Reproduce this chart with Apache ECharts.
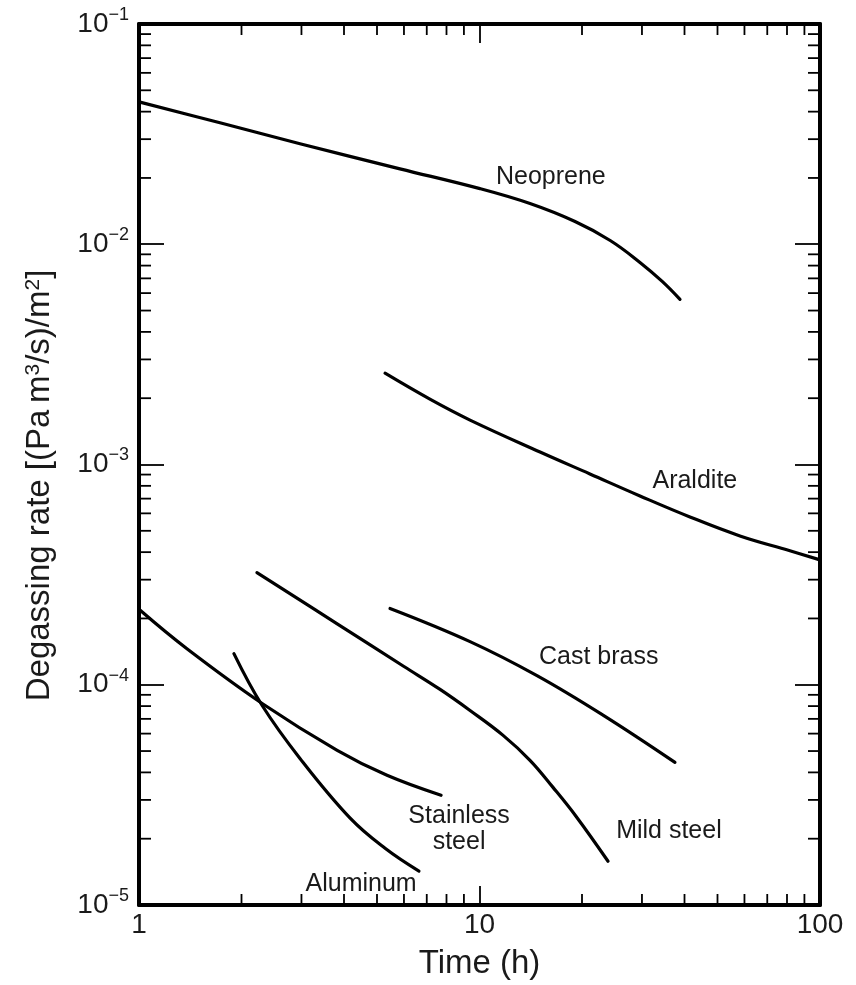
<!DOCTYPE html>
<html>
<head>
<meta charset="utf-8">
<script src="https://cdn.jsdelivr.net/npm/echarts@6/dist/echarts.min.js"></script>
<style>
  html, body { margin: 0; padding: 0; background: #ffffff; }
  #chart { width: 856px; height: 985px; }
</style>
</head>
<body>
<div id="chart"></div>
<script>
// Degassing rate of materials versus pumping time.
// Each point: [time (h), degassing rate ((Pa m^3/s)/m^2)]
const neoprene = [[1, 0.0443], [1.729, 0.0356], [2.97, 0.0286], [5.84, 0.0220], [10.03, 0.01788], [14.07, 0.0153], [19.08, 0.01268], [24.2, 0.0104], [29.6, 0.00827], [34.4, 0.00678], [38.8, 0.00562]];
const araldite = [[5.28, 0.002597], [7.15, 0.00198], [9.38, 0.001591], [15.06, 0.001139], [21.1, 0.000906], [29.6, 0.000720], [41.5, 0.000578], [58.2, 0.000474], [81.6, 0.000406], [100, 0.000369]];
const castBrass = [[5.46, 2.22e-4], [9.38, 1.57e-4], [14.75, 1.10e-4], [23.05, 7.28e-5], [37.5, 4.44e-5]];
const mildSteel = [[2.22, 3.23e-4], [3.82, 1.89e-4], [6.0, 1.21e-4], [7.66, 9.52e-5], [9.38, 7.64e-5], [11.73, 5.89e-5], [14.07, 4.54e-5], [16.44, 3.42e-5], [19.2, 2.53e-5], [23.85, 1.58e-5]];
const stainlessSteel = [[1, 2.2e-4], [1.38, 1.46e-4], [2.30, 8.22e-5], [3.82, 5.04e-5], [5.35, 3.88e-5], [7.71, 3.15e-5]];
const aluminum = [[1.90, 1.385e-4], [2.30, 8.05e-5], [2.97, 4.63e-5], [4.17, 2.48e-5], [5.28, 1.81e-5], [6.64, 1.426e-5]];

// Curve names and where each name is written (time, rate)
const curveNames = ['Neoprene', 'Araldite', 'Cast brass', 'Stainless\nsteel', 'Mild steel', 'Aluminum'];
const nameAnchors = [[16.2, 0.0207], [42.9, 8.6e-4], [22.4, 1.357e-4], [8.71, 2.256e-5], [36.0, 2.21e-5], [4.49, 1.271e-5]];

// Axis ranges and tick labels
const X_MIN = 1, X_MAX = 100;
const Y_MIN = 1e-5, Y_MAX = 1e-1;
const xTickLabels = ['1', '10', '100'];
const yTickExponents = [-5, -4, -3, -2, -1];
const minorMultipliers = [2, 3, 4, 5, 6, 7, 8, 9];

const xMinorTicks = [];
[1, 10].forEach(d => minorMultipliers.forEach(m => xMinorTicks.push([m * d, Y_MIN])));
const yMinorTicks = [];
[1e-5, 1e-4, 1e-3, 1e-2].forEach(d => minorMultipliers.forEach(m => yMinorTicks.push([X_MIN, m * d])));

const FONT = '"Liberation Sans", Arial, Helvetica, sans-serif';
const INK = '#000000';
const TEXT = '#1a1a1a';

const frameLine = { show: true, onZero: false, lineStyle: { color: INK, width: 4 } };
const tickStyle = { color: INK, width: 1.8 };

function curve(name, data) {
  return {
    name, type: 'line', data, smooth: 0.4, showSymbol: false,
    xAxisIndex: 0, yAxisIndex: 0,
    lineStyle: { color: INK, width: 3.2, cap: 'round', join: 'round' },
    z: 3
  };
}

const chart = echarts.init(document.getElementById('chart'), null, { renderer: 'canvas' });

chart.setOption({
  animation: false,
  backgroundColor: '#ffffff',
  textStyle: { fontFamily: FONT },
  grid: { left: 139, right: 36, top: 24, bottom: 78, containLabel: false },
  xAxis: [
    {
      type: 'log', logBase: 10, min: X_MIN, max: X_MAX, position: 'bottom',
      axisLine: frameLine,
      axisTick: { show: true, inside: true, length: 19, lineStyle: tickStyle },
      axisLabel: {
        show: true, margin: 6, fontSize: 28, color: TEXT, fontFamily: FONT,
        showMinLabel: true, showMaxLabel: true,
        formatter: v => xTickLabels[Math.round(Math.log10(v))]
      },
      splitLine: { show: false }, minorTick: { show: false },
      name: 'Time (h)', nameLocation: 'middle', nameGap: 42,
      nameTextStyle: { fontSize: 33, color: TEXT, fontFamily: FONT }
    },
    {
      type: 'log', logBase: 10, min: X_MIN, max: X_MAX, position: 'top',
      axisLine: frameLine,
      axisTick: { show: true, inside: true, length: 19, lineStyle: tickStyle },
      axisLabel: { show: false }, splitLine: { show: false }
    }
  ],
  yAxis: [
    {
      type: 'log', logBase: 10, min: Y_MIN, max: Y_MAX, position: 'left',
      axisLine: frameLine,
      axisTick: { show: true, inside: true, length: 25, lineStyle: tickStyle },
      axisLabel: {
        show: true, margin: 10, fontFamily: FONT, color: TEXT,
        showMinLabel: true, showMaxLabel: true,
        formatter: v => {
          const e = Math.round(Math.log10(v));
          return yTickExponents.includes(e) ? '{b|10}{s|\u2212' + (-e) + '}' : '';
        },
        rich: {
          b: { fontSize: 28, lineHeight: 36, color: TEXT, fontFamily: FONT },
          s: { fontSize: 18, lineHeight: 18, verticalAlign: 'top', color: TEXT, fontFamily: FONT }
        }
      },
      splitLine: { show: false }, minorTick: { show: false },
      name: 'Degassing rate [(Pa\u2009m{s|3}/s)/m{s|2}]',
      nameLocation: 'middle', nameRotate: 90, nameGap: 83,
      nameTextStyle: {
        fontSize: 33, color: TEXT, fontFamily: FONT, padding: [0, 42, 0, 0],
        rich: { s: { fontSize: 21, lineHeight: 21, verticalAlign: 'top', color: TEXT, fontFamily: FONT } }
      }
    },
    {
      type: 'log', logBase: 10, min: Y_MIN, max: Y_MAX, position: 'right',
      axisLine: frameLine,
      axisTick: { show: true, inside: true, length: 25, lineStyle: tickStyle },
      axisLabel: { show: false }, splitLine: { show: false }
    }
  ],
  series: [
    curve('Neoprene', neoprene),
    curve('Araldite', araldite),
    curve('Cast brass', castBrass),
    curve('Mild steel', mildSteel),
    curve('Stainless steel', stainlessSteel),
    curve('Aluminum', aluminum),
    {
      // minor ticks along the bottom and top edges
      type: 'custom', name: 'x minor ticks', data: xMinorTicks, silent: true, clip: false, z: 4,
      renderItem: (params, api) => {
        const t = api.value(0);
        const b = api.coord([t, Y_MIN]);
        const tp = api.coord([t, Y_MAX]);
        const st = { stroke: INK, lineWidth: 1.8 };
        return {
          type: 'group', children: [
            { type: 'line', shape: { x1: b[0], y1: b[1], x2: b[0], y2: b[1] - 11 }, style: st },
            { type: 'line', shape: { x1: tp[0], y1: tp[1], x2: tp[0], y2: tp[1] + 11 }, style: st }
          ]
        };
      }
    },
    {
      // minor ticks along the left and right edges
      type: 'custom', name: 'y minor ticks', data: yMinorTicks, silent: true, clip: false, z: 4,
      renderItem: (params, api) => {
        const v = api.value(1);
        const l = api.coord([X_MIN, v]);
        const r = api.coord([X_MAX, v]);
        const st = { stroke: INK, lineWidth: 1.8 };
        return {
          type: 'group', children: [
            { type: 'line', shape: { x1: l[0], y1: l[1], x2: l[0] + 12, y2: l[1] }, style: st },
            { type: 'line', shape: { x1: r[0], y1: r[1], x2: r[0] - 12, y2: r[1] }, style: st }
          ]
        };
      }
    },
    {
      // material names next to their curves
      type: 'custom', name: 'curve names', data: nameAnchors, silent: true, clip: false, z: 5,
      renderItem: (params, api) => {
        const p = api.coord([api.value(0), api.value(1)]);
        return {
          type: 'text', x: p[0], y: p[1] + 2,
          style: {
            text: curveNames[params.dataIndex], fill: TEXT,
            fontSize: 25, fontFamily: FONT, lineHeight: 26,
            align: 'center', verticalAlign: 'middle'
          }
        };
      }
    }
  ]
});
</script>
</body>
</html>
